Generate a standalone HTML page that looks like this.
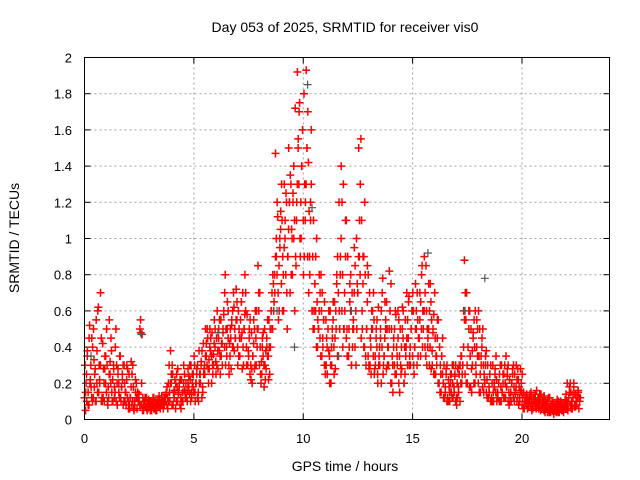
<!DOCTYPE html>
<html><head><meta charset="utf-8"><style>
html,body{margin:0;padding:0;background:#fff;}
svg{display:block;font-family:"Liberation Sans",sans-serif;}
</style></head><body>
<svg id="chart" width="640" height="480">
<text x="345" y="32" font-size="14" text-anchor="middle">Day 053 of 2025, SRMTID for receiver vis0</text>
<text x="345" y="471" font-size="14" text-anchor="middle">GPS time / hours</text>
<text transform="translate(19,238) rotate(-90)" font-size="14" text-anchor="middle">SRMTID / TECUs</text>
<g id="grid"></g>
<g id="ticks"></g>
<g id="points"></g>
<rect x="84.5" y="57.5" width="525" height="362" fill="none" stroke="#000"/>
</svg>
<script>
const xTicks=[0,5,10,15,20];
const yTicks=[0,0.2,0.4,0.6,0.8,1,1.2,1.4,1.6,1.8,2];
const yTickLabels=["0","0.2","0.4","0.6","0.8","1","1.2","1.4","1.6","1.8","2"];
const slotStartHour=0, slotHours=0.1;
const srmtid=[
[.12,.3,.05,.2],[.1,.38,.15],[.08,.52,.22],[.18,.45,.1],[.12,.33,.25],[.1,.55,.2],[.15,.62,.3],[.2,.7,.1],[.12,.42,.28],[.1,.35,.2],
[.15,.3,.08],[.12,.55,.25],[.2,.38,.1],[.1,.28,.18],[.15,.5,.3],[.08,.25,.2],[.12,.35,.1],[.18,.22,.3],[.1,.2,.15],[.08,.3,.12],
[.1,.25,.06],[.12,.32,.08],[.1,.18,.05],[.08,.22,.12],[.06,.15,.1],[.1,.5,.55],[.08,.47,.12],[.05,.1,.08],[.07,.12,.05],[.06,.09,.1],
[.07,.1,.05],[.08,.12,.06],[.06,.1,.09],[.05,.08,.1],[.07,.11,.06],[.08,.13,.1],[.06,.1,.12],[.1,.15,.08],[.12,.2,.3],[.1,.38,.2],
[.08,.25,.15],[.12,.22,.06],[.1,.18,.28],[.15,.2,.08],[.12,.22,.1],[.1,.3,.16],[.15,.2,.12],[.1,.28,.18],[.14,.22,.3],[.12,.25,.18],
[.15,.3,.1],[.2,.28,.12],[.15,.38,.25],[.2,.32,.12],[.18,.42,.28],[.25,.5,.35],[.3,.45,.2],[.28,.5,.38],[.35,.48,.25],[.3,.55,.4],
[.32,.45,.6],[.28,.5,.38],[.35,.55,.42],[.3,.48,.6],[.4,.8,.5],[.35,.65,.45],[.3,.42,.5],[.28,.55,.4],[.4,.62,.5],[.45,.72,.55],
[.4,.6,.5],[.35,.55,.45],[.48,.7,.3],[.5,.8,.6],[.4,.58,.3],[.35,.5,.25],[.3,.48,.2],[.35,.55,.28],[.3,.45,.6],[.5,.85,.7],
[.3,.4,.2],[.25,.45,.35],[.3,.5,.22],[.28,.4,.35],[.35,.55,.25],[.4,.6,.5],[.5,.75,.65],[.7,1.47,.9],[.8,1.12,.55],[.6,.95,1.05],
[.75,1.1,.9],[.6,1.3,1.0],[.8,1.2,.5],[.9,1.5,1.2],[.7,1.3,1.05],[.8,1.25,1.0],[1.1,1.72,.85],[1.2,1.92,1.5],[1.3,1.75,.9],[1.0,1.4,1.6],
[1.1,1.8,1.3],[1.2,1.93,1.5],[.9,1.42,1.15],[.8,1.2,1.6],[.6,.9,1.1],[.5,.75,.6],[.4,.65,.55],[.5,.8,.45],[.35,.6,.7],[.4,.55,.3],
[.3,.55,.45],[.25,.5,.38],[.35,.6,.2],[.3,.45,.55],[.4,.65,.28],[.5,.8,.35],[.7,1.2,.5],[.9,1.4,.6],[.8,1.3,.5],[.6,1.1,.45],
[.5,.9,.35],[.4,.75,.6],[.3,.7,.5],[.5,.95,.4],[.6,1.0,.75],[.7,1.5,.9],[.8,1.55,1.1],[.5,.9,.4],[.4,.8,.3],[.5,.85,.35],
[.3,.7,.45],[.25,.6,.5],[.35,.55,.28],[.3,.5,.4],[.25,.62,.35],[.3,.45,.2],[.4,.78,.3],[.35,.65,.5],[.28,.5,.4],[.3,.82,.6],
[.2,.5,.35],[.15,.45,.3],[.25,.58,.4],[.3,.6,.2],[.35,.5,.25],[.28,.62,.45],[.2,.4,.55],[.4,.7,.3],[.45,.68,.35],[.3,.5,.6],
[.35,.6,.25],[.4,.75,.5],[.3,.55,.45],[.45,.7,.35],[.5,.85,.6],[.6,.9,.4],[.35,.6,.5],[.45,.75,.3],[.4,.65,.55],[.3,.5,.25],
[.25,.45,.35],[.3,.55,.2],[.2,.4,.3],[.15,.35,.25],[.2,.3,.12],[.15,.28,.1],[.12,.22,.18],[.1,.25,.15],[.12,.2,.3],[.15,.25,.1],
[.12,.2,.28],[.15,.3,.1],[.2,.35,.25],[.3,.6,.88],[.25,.55,.7],[.2,.4,.6],[.18,.35,.5],[.15,.3,.45],[.2,.4,.6],[.25,.55,.35],
[.2,.35,.5],[.15,.3,.4],[.18,.3,.25],[.2,.35,.15],[.22,.3,.12],[.15,.25,.1],[.12,.2,.3],[.1,.18,.25],[.15,.22,.12],[.12,.2,.1],
[.1,.18,.3],[.15,.25,.12],[.12,.2,.35],[.18,.28,.1],[.15,.22,.12],[.1,.2,.28],[.12,.18,.25],[.15,.3,.1],[.12,.22,.18],[.1,.28,.15],
[.08,.12,.15],[.06,.1,.13],[.08,.12,.1],[.07,.1,.14],[.08,.11,.06],[.06,.12,.1],[.07,.1,.16],[.09,.12,.06],[.08,.11,.14],[.06,.1,.08],
[.05,.08,.1],[.06,.09,.04],[.05,.07,.12],[.04,.08,.06],[.05,.09,.07],[.06,.08,.04],[.05,.07,.1],[.04,.06,.08],[.05,.09,.06],[.04,.08,.07],
[.06,.1,.2],[.05,.12,.18],[.08,.15,.1],[.06,.12,.2],[.07,.14,.1],[.08,.12,.15],[.06,.1,.12]
];
const fillStartHour=0.05, fillSlotHours=0.2;
const srmtidFill=[
[.15,.25,.35,.08,.45],[.2,.3,.12,.4,.5],[.18,.28,.1,.38,.6],[.15,.22,.3,.45,.1],[.12,.2,.28,.35,.5],
[.1,.18,.25,.32,.45],[.15,.22,.3,.12,.4],[.1,.2,.28,.15,.35],[.12,.18,.25,.08,.3],[.1,.15,.22,.28,.06],
[.08,.12,.18,.25,.3],[.06,.1,.15,.2,.12],[.1,.14,.08,.48,.2],[.05,.08,.1,.12,.07],[.06,.09,.11,.07,.05],
[.06,.08,.1,.12,.07],[.05,.07,.09,.11,.13],[.07,.09,.12,.08,.1],[.08,.1,.14,.18,.06],[.1,.15,.2,.25,.3],
[.08,.12,.16,.2,.25],[.1,.14,.18,.22,.06],[.1,.15,.2,.25,.12],[.12,.16,.2,.24,.3],[.1,.15,.2,.25,.35],
[.15,.2,.25,.3,.1],[.2,.25,.3,.38,.15],[.25,.3,.35,.42,.5],[.28,.33,.4,.45,.2],[.3,.36,.42,.5,.25],
[.3,.38,.45,.55,.25],[.35,.42,.5,.58,.7],[.3,.4,.5,.6,.25],[.35,.45,.52,.6,.7],[.38,.45,.55,.65,.3],
[.35,.45,.55,.65,.28],[.4,.5,.58,.7,.3],[.3,.38,.45,.55,.22],[.28,.35,.42,.5,.6],[.3,.4,.5,.6,.7],
[.25,.32,.4,.48,.18],[.3,.38,.45,.55,.22],[.4,.5,.6,.7,.8],[.6,.8,.9,1.0,1.2],[.7,.85,1.0,1.15,1.3],
[.6,.8,.95,1.1,1.25],[.7,.9,1.05,1.2,1.35],[.8,1.0,1.2,1.4,.6],[.9,1.1,1.3,1.55,1.7],[1.0,1.2,1.4,1.6,.8],
[.9,1.1,1.3,1.5,1.7],[.7,.9,1.1,1.3,.6],[.5,.6,.75,.9,1.0],[.4,.5,.6,.7,.8],[.35,.45,.55,.65,.25],
[.3,.4,.5,.6,.2],[.3,.4,.5,.65,.25],[.45,.6,.75,.9,.35],[.6,.8,1.0,1.2,.4],[.5,.7,.9,1.1,.35],
[.35,.5,.65,.8,.3],[.4,.55,.7,.85,.3],[.5,.7,.9,1.1,1.3],[.45,.6,.75,.9,1.2],[.35,.5,.65,.8,.28],
[.3,.4,.5,.6,.7],[.25,.35,.45,.55,.2],[.3,.4,.5,.6,.7],[.25,.35,.45,.55,.65],[.3,.4,.5,.6,.75],
[.2,.3,.4,.5,.6],[.25,.35,.45,.55,.15],[.3,.4,.5,.6,.2],[.25,.35,.45,.55,.65],[.3,.4,.5,.6,.7],
[.3,.4,.5,.6,.7],[.35,.45,.55,.65,.8],[.4,.5,.6,.7,.85],[.3,.4,.5,.6,.75],[.28,.38,.48,.58,.7],
[.25,.35,.45,.55,.2],[.15,.25,.35,.45,.12],[.12,.18,.25,.3,.1],[.1,.15,.2,.25,.3],[.12,.18,.24,.3,.08],
[.12,.18,.25,.3,.35],[.2,.3,.4,.55,.7],[.2,.3,.4,.5,.6],[.18,.28,.38,.48,.55],[.2,.3,.4,.5,.6],
[.15,.25,.35,.45,.5],[.15,.22,.3,.38,.12],[.12,.18,.25,.3,.1],[.1,.15,.2,.28,.35],[.1,.15,.2,.25,.3],
[.1,.15,.2,.25,.3],[.12,.18,.24,.3,.08],[.1,.15,.2,.25,.3],[.1,.14,.18,.22,.28],[.08,.12,.16,.2,.25],
[.06,.08,.1,.12,.14],[.06,.09,.11,.13,.15],[.05,.08,.1,.12,.14],[.06,.08,.1,.12,.14],[.05,.07,.09,.11,.13],
[.04,.06,.08,.1,.12],[.04,.06,.08,.1,.05],[.03,.05,.07,.09,.11],[.04,.06,.08,.1,.06],[.05,.07,.09,.11,.14],
[.06,.09,.12,.15,.2],[.06,.1,.14,.18,.08],[.07,.1,.13,.16,.12]
];
const darkTimes=[0.3,2.6,6.1,8.8,9.6,10.2,10.4,11.6,12.2,15.7,17.4,18.3];
const darkVals=[.35,.47,.48,.6,.4,1.85,1.17,.35,.6,.92,.6,.78];
const X0=84.5,X1=609.5,Y0=419.5,Y1=57.5,XMAX=24,YMAX=2;
const xs=v=>X0+(v/XMAX)*(X1-X0);
const ys=v=>Y0-(v/YMAX)*(Y0-Y1);
const NS="http://www.w3.org/2000/svg";
const grid=document.getElementById('grid'),ticks=document.getElementById('ticks'),pts=document.getElementById('points');
function mk(tag,attrs,parent){const e=document.createElementNS(NS,tag);for(const k in attrs)e.setAttribute(k,attrs[k]);parent.appendChild(e);return e;}
xTicks.forEach(t=>{
 const x=xs(t);
 if(t>0){const g=mk('line',{x1:x,x2:x,y1:Y0,y2:Y1,stroke:'#a0a0a0','stroke-dasharray':'2,3'},grid);
 
 }
 const l=mk('text',{x:x,y:443,'font-size':13,'text-anchor':'middle'},ticks);l.textContent=t;
 
 
 mk('line',{x1:x,x2:x,y1:Y0,y2:Y0-6,stroke:'#000'},ticks);mk('line',{x1:x,x2:x,y1:Y1,y2:Y1+6,stroke:'#000'},ticks);
});
yTicks.forEach((t,i)=>{
 const y=ys(t);
 if(t>0&&t<2){const g=mk('line',{x1:X0,x2:X1,y1:y,y2:y,stroke:'#a0a0a0','stroke-dasharray':'2,3'},grid);
 
 }
 const l=mk('text',{x:72,y:y+5,'font-size':13,'text-anchor':'end'},ticks);l.textContent=yTickLabels[i];
 
 
 mk('line',{x1:X0,x2:X0+6,y1:y,y2:y,stroke:'#000'},ticks);mk('line',{x1:X1,x2:X1-6,y1:y,y2:y,stroke:'#000'},ticks);
});
function plus(x,y){return `M${(x-4).toFixed(1)} ${y.toFixed(1)}h8M${x.toFixed(1)} ${(y-4).toFixed(1)}v8`;}
let d='';
srmtid.forEach((vals,i)=>{
 vals.forEach((v,j)=>{
  const t=slotStartHour+i*slotHours+j*slotHours/vals.length;
  d+=plus(xs(t),ys(v));
 });
});
srmtidFill.forEach((vals,i)=>{
 vals.forEach((v,j)=>{
  const t=fillStartHour+i*fillSlotHours+j*fillSlotHours/vals.length;
  d+=plus(xs(t),ys(v));
 });
});
const p=mk('path',{d:d,stroke:'#ff0000','stroke-width':1.5,fill:'none'},pts);


let dd='';
darkTimes.forEach((t,i)=>{dd+=plus(xs(t),ys(darkVals[i]));});
const p2=mk('path',{d:dd,stroke:'#555',"stroke-width":1.2,fill:'none'},pts);


</script>
</body></html>
